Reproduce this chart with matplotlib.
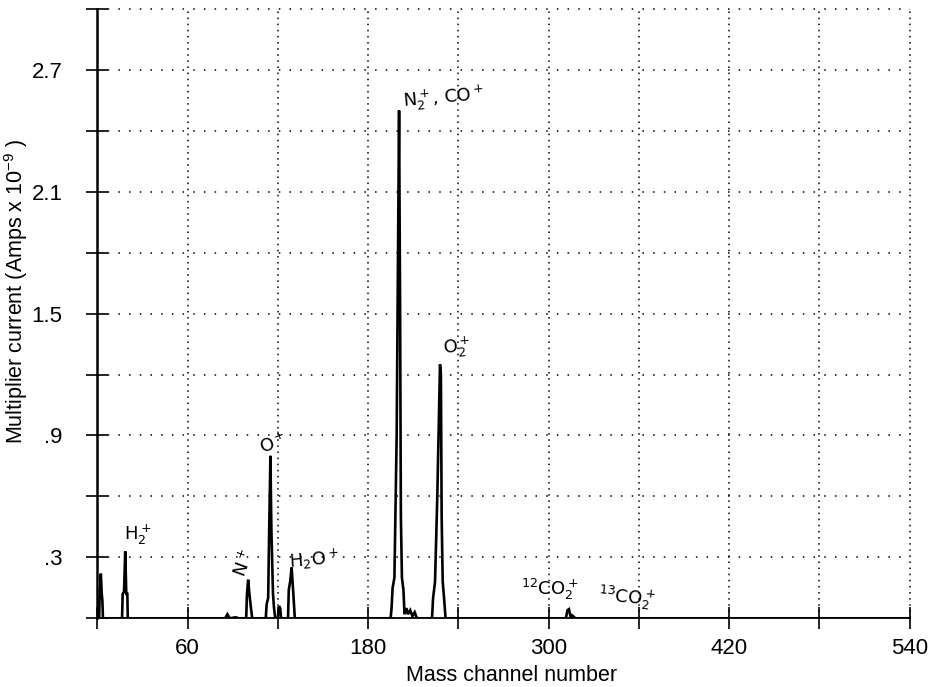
import matplotlib
matplotlib.use("Agg")
import matplotlib.pyplot as plt
import numpy as np

# Spectrum trace vertices (channel, current in 1e-9 A)
channel = [0, 1.3, 1.6, 2.4, 3.0, 3.4, 3.8,
           16.5, 16.9, 17.8, 18.6, 19.3, 20.0, 20.3,
           85, 86.5, 88, 92, 94,
           99, 99.5, 100.3, 101, 102, 103,
           112, 112.6, 113.6, 114.3, 115.1, 115.7, 116.2, 116.8, 117.5, 118.3,
           120, 120.8, 121.6, 122.2,
           126.8, 127.3, 128.2, 129.2, 129.8, 130.5, 131.3,
           195, 195.6, 196.3, 197.5, 199, 200.6, 201.3, 201.8, 202.5, 203.5, 204.2,
           205.5, 206.5, 208, 209.5, 211, 212.5,
           222.5, 223.2, 224.5, 226, 227.8, 228.4, 228.9, 229.6, 230.5, 231.5,
           311.5, 312.5, 313.5, 314.5, 315.5, 317, 318,
           540]
current = [0, 0, 0.12, 0.22, 0.12, 0.09, 0,
           0, 0.12, 0.13, 0.33, 0.12, 0.12, 0,
           0, 0.02, 0, 0.005, 0,
           0, 0.12, 0.19, 0.13, 0.06, 0,
           0, 0.07, 0.1, 0.45, 0.8, 0.45, 0.3, 0.12, 0.05, 0,
           0, 0.06, 0.05, 0,
           0, 0.14, 0.18, 0.25, 0.18, 0.1, 0,
           0, 0.05, 0.15, 0.2, 0.9, 2.5, 1.5, 0.5, 0.2, 0.14, 0.02,
           0.05, 0.02, 0.04, 0.01, 0.03, 0,
           0, 0.1, 0.18, 0.6, 1.25, 1.2, 0.5, 0.18, 0.1, 0,
           0, 0.04, 0.045, 0.01, 0.015, 0.005, 0,
           0]

# Hand-written peak labels
label_text = [r"H$_2^+$", r"N$^+$", r"O$^+$", r"H$_2$O$^+$", r"N$_2^+$, CO$^+$",
              r"O$_2^+$", r"$^{12}$CO$_2^+$", r"$^{13}$CO$_2^+$"]
label_x = [27, 98, 117, 144, 230, 239, 301, 352]
label_y = [0.41, 0.27, 0.86, 0.29, 2.56, 1.33, 0.14, 0.10]
label_rot = [0, 70, 20, 5, 5, 5, 0, -5]

x_ticks = [0, 60, 120, 180, 240, 300, 360, 420, 480, 540]
x_tick_labels = ["", "60", "", "180", "", "300", "", "420", "", "540"]
y_ticks = [0, 0.3, 0.6, 0.9, 1.2, 1.5, 1.8, 2.1, 2.4, 2.7, 3.0]
y_tick_labels = ["", ".3", "", ".9", "", "1.5", "", "2.1", "", "2.7", ""]

plt.rcParams['font.family'] = ['Liberation Sans', 'DejaVu Sans']

fig = plt.figure(figsize=(9.35, 6.87), dpi=100)
ax = fig.add_axes([0.104, 0.1, 0.869, 0.887])

ax.plot(channel, current, color='black', lw=1.9, solid_joinstyle='miter', zorder=3)

ax.set_xlim(0, 540)
ax.set_ylim(0, 3.0)
ax.set_xticks(x_ticks)
ax.set_xticklabels(x_tick_labels)
ax.set_yticks(y_ticks)
ax.set_yticklabels(y_tick_labels)

for v in x_ticks[1:]:
    ax.axvline(v, color='black', lw=1.1, ls=(0, (1, 3)), zorder=1, clip_on=False)
for v in y_ticks[1:]:
    ax.axhline(v, color='black', lw=1.1, ls=(0, (1, 6)), zorder=1, clip_on=False)

ax.spines['top'].set_visible(False)
ax.spines['right'].set_visible(False)
ax.spines['left'].set_linewidth(1.8)
ax.spines['bottom'].set_linewidth(1.3)

ax.tick_params(axis='both', direction='inout', length=16, width=1.2, labelsize=16)
ax.tick_params(axis='y', pad=17)
ax.tick_params(axis='x', pad=6)

ax.set_xlabel("Mass channel number", fontsize=15.5)
ax.set_ylabel(r"Multiplier current (Amps x 10$^{\mathregular{-9}}$ )", fontsize=15.5)
ax.xaxis.set_label_coords(0.51, -0.077)
ax.yaxis.set_label_coords(-0.083, 0.537)

for t, x, y, r in zip(label_text, label_x, label_y, label_rot):
    ax.text(x, y, t, fontsize=13, rotation=r, ha='center', va='center',
            family=['DejaVu Sans'], zorder=4)

fig.savefig("out.png", dpi=100)
